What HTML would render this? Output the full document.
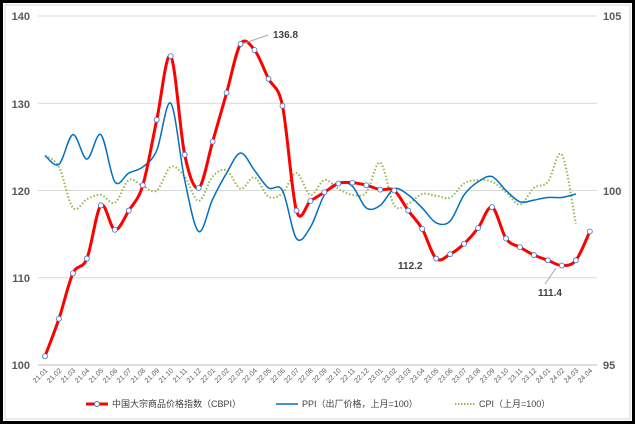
<!DOCTYPE html>
<html><head><meta charset="utf-8"><style>
html,body{margin:0;padding:0;background:#fff;}
svg{display:block;}
text{font-family:"Liberation Sans","Noto Sans CJK SC",sans-serif;}
</style></head><body>
<svg id="c" width="635" height="424" viewBox="0 0 635 424">
<rect x="1.5" y="1.5" width="632" height="421" fill="#fff" stroke="#000" stroke-width="3"/>
<rect x="5" y="5" width="625" height="414" fill="none" stroke="#d9d9d9" stroke-width="1"/>
<g id="grid" stroke="#d9d9d9" stroke-width="1"></g>
<g font-size="11" font-weight="bold" fill="#595959">
<text x="30" y="20" text-anchor="end">140</text>
<text x="30" y="108" text-anchor="end">130</text>
<text x="30" y="195" text-anchor="end">120</text>
<text x="30" y="282" text-anchor="end">110</text>
<text x="30" y="369" text-anchor="end">100</text>
<text x="603" y="20">105</text>
<text x="603" y="195">100</text>
<text x="603" y="369">95</text>
</g>
<g id="xl" font-size="7" fill="#595959"></g>
<g id="series"></g>
<g font-size="10" font-weight="bold" fill="#404040">
<line x1="242" y1="44" x2="268" y2="35" stroke="#a6a6a6"/>
<text x="273" y="38">136.8</text>
<text x="398" y="269">112.2</text>
<line x1="556" y1="268" x2="545" y2="284" stroke="#a6a6a6"/>
<text x="538" y="296">111.4</text>
</g>
<g font-size="9" fill="#404040">
<line x1="86" y1="404" x2="108" y2="404" stroke="#f00" stroke-width="3"/>
<circle cx="97" cy="404" r="2.5" fill="#fff" stroke="#4472c4"/>
<text x="112" y="407">中国大宗商品价格指数（CBPI）</text>
<line x1="276" y1="404" x2="298" y2="404" stroke="#0070c0" stroke-width="1.5"/>
<text x="302" y="407">PPI（出厂价格，上月=100）</text>
<line x1="455" y1="404" x2="475" y2="404" stroke="#92b84f" stroke-width="2" stroke-dasharray="1.5,1.5"/>
<text x="479" y="407">CPI（上月=100）</text>
</g>
</svg>
<script>
var NS="http://www.w3.org/2000/svg";
function el(t,a,p){var e=document.createElementNS(NS,t);for(var k in a)e.setAttribute(k,a[k]);p.appendChild(e);return e;}
function Y(v){return 365-(v-100)*8.725;}
function X(i){return 45+i*13.97;}
var g=document.getElementById('grid');
[140,130,120,110].forEach(function(v){el('line',{x1:38,x2:597,y1:Y(v),y2:Y(v)},g);});
el('line',{x1:38,x2:597,y1:365,y2:365,stroke:'#bfbfbf'},g);
var labs=[];for(var y=21;y<=24;y++)for(var m=1;m<=12;m++){if(y==24&&m>4)break;labs.push(y+'.'+(m<10?'0':'')+m);}
var xl=document.getElementById('xl');
labs.forEach(function(l,i){var t=el('text',{x:X(i)+3,y:371,'text-anchor':'end',transform:'rotate(-45 '+(X(i)+3)+' 371)'},xl);t.textContent=l;});
var cb=[101.0,105.3,110.5,112.2,118.3,115.5,117.7,120.6,128.1,135.4,124.1,120.3,125.6,131.2,136.8,136.1,132.8,129.7,117.7,118.8,119.8,120.8,120.9,120.6,120.1,120.0,117.7,115.6,112.2,112.7,113.9,115.7,118.1,114.5,113.5,112.6,112.0,111.4,112.0,115.3];
var pp=[124,123,126.4,123.6,126.4,121,122,122.7,124.6,130,121.2,115.3,119,122,124.3,122.3,120.3,120.0,114.5,115.8,119.5,120.9,120.5,118.0,118.3,120.2,119.5,118.0,116.3,116.5,119.5,121.0,121.6,120.0,118.7,118.9,119.2,119.2,119.6];
var cp=[124,122.7,118,119,119.5,118.6,121.2,120.5,120,122.7,121.6,118.8,121.6,122.3,120.2,121.5,119.3,119.7,122.0,119.5,121.2,120.2,119.5,119.8,123.2,118.3,118.5,119.6,119.4,119.2,120.8,121.2,121.0,119.8,118.4,120.3,121,124.1,116.2];
function path(d){var p=d.map(function(v,i){return [X(i),Y(v)];});var s='M'+p[0][0]+','+p[0][1];
for(var i=0;i<p.length-1;i++){var p0=p[i-1]||p[i],p1=p[i],p2=p[i+1],p3=p[i+2]||p2,t=6;
s+='C'+(p1[0]+(p2[0]-p0[0])/t)+','+(p1[1]+(p2[1]-p0[1])/t)+' '+(p2[0]-(p3[0]-p1[0])/t)+','+(p2[1]-(p3[1]-p1[1])/t)+' '+p2[0]+','+p2[1];}return s;}
var sg=document.getElementById('series');
el('path',{d:path(cp),fill:'none',stroke:'#92b84f','stroke-width':2,'stroke-dasharray':'1.5,2'},sg);
el('path',{d:path(pp),fill:'none',stroke:'#0070c0','stroke-width':1.5},sg);
el('path',{d:path(cb),fill:'none',stroke:'#f00','stroke-width':3},sg);
cb.forEach(function(v,i){el('circle',{cx:X(i),cy:Y(v),r:2.5,fill:'#fff',stroke:'#4472c4','stroke-width':0.8},sg);});
</script>
</body></html>
